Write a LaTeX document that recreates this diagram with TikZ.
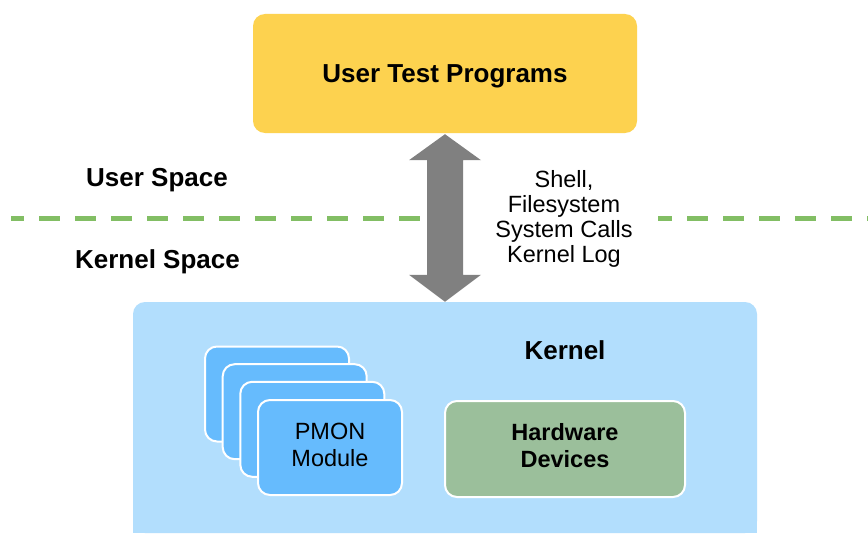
\documentclass[tikz,border=0pt]{standalone}
\usepackage{fontspec}
\setmainfont{Liberation Sans}
\usetikzlibrary{calc}
\definecolor{ctyellow}{RGB}{253,210,79}
\definecolor{ctkernel}{RGB}{178,222,253}
\definecolor{ctmodule}{RGB}{102,187,253}
\definecolor{cthw}{RGB}{155,191,155}
\definecolor{ctdash}{RGB}{130,190,100}
\definecolor{ctarrow}{RGB}{128,128,128}
\tikzset{
  bigbold/.style={font=\bfseries\fontsize{26}{30}\selectfont, inner sep=0pt},
  plaintext/.style={font=\fontsize{23.5}{27}\selectfont, align=center, inner sep=0pt},
  boldtext/.style={font=\bfseries\fontsize{23.5}{27}\selectfont, align=center, inner sep=0pt},
  userbox/.style={fill=ctyellow, rounded corners=12pt, minimum width=384pt, minimum height=119pt, inner sep=0pt},
  kernelbox/.style={fill=ctkernel, rounded corners=12pt, minimum width=624pt, minimum height=231pt, inner sep=0pt},
  modbox/.style={fill=ctmodule, draw=white, line width=2pt, rounded corners=12pt, minimum width=144pt, minimum height=95pt, inner sep=0pt},
  hwbox/.style={fill=cthw, draw=white, line width=2pt, rounded corners=12pt, minimum width=240pt, minimum height=96pt, inner sep=0pt},
  sepline/.style={draw=ctdash, line width=5pt, dash pattern=on 21pt off 15pt, dash phase=8pt},
}
\begin{document}
\begin{tikzpicture}[x=1pt,y=-1pt]
\path[use as bounding box, fill=white] (0,0) rectangle (868,535);

% separator line between user and kernel space
\coordinate (lineL) at (11,218);
\coordinate (lineR) at (868,218);
\draw[sepline] (lineL) -- (lineR);

% interface label
\node[plaintext, font=\fontsize{23.5}{25}\selectfont, fill=white, minimum width=188pt, minimum height=100pt] (iface) at (564,218.5)
  {Shell,\\Filesystem\\System Calls\\Kernel Log};

% space labels
\node[bigbold, anchor=base] (userspace) at (157,186) {User Space};
\node[bigbold, anchor=base] (kernelspace) at (157.5,268) {Kernel Space};

% user programs
\node[userbox, bigbold, text height=18.7pt, text depth=0pt] (user) at (445,73.5) {User Test Programs};

% kernel
\node[kernelbox] (kernel) at (445,417.5) {};
\fill[ctkernel] (kernel.west) rectangle (kernel.south east);
\node[bigbold, anchor=base] (kerneltitle) at (565,359) {Kernel};

% double arrow between user and kernel
\coordinate (atop) at ($(user.south)+(0,1)$);
\coordinate (abot) at (kernel.north);
\fill[ctarrow] (atop) -- ++(36,26) -- ++(-18,0) -- ($(abot)+(18,-27)$) -- ++(18,0)
  -- (abot) -- ++(-36,-27) -- ++(18,0) -- ($(atop)+(-18,26)$) -- ++(-18,0) -- cycle;

% PMON module stack
\node[modbox] (mod1) at (277,394) {};
\node[modbox] (mod2) at (294.7,411.7) {};
\node[modbox] (mod3) at (312.3,429.3) {};
\node[modbox] (mod4) at (330,447.5) {};
\node[plaintext] (modtext) at ($(mod4)+(0,-2.5)$) {PMON\\Module};

% hardware devices
\node[hwbox] (hw) at (565,449) {};
\node[boldtext] (hwtext) at ($(hw)+(0,-3)$) {Hardware\\Devices};
\end{tikzpicture}
\end{document}
